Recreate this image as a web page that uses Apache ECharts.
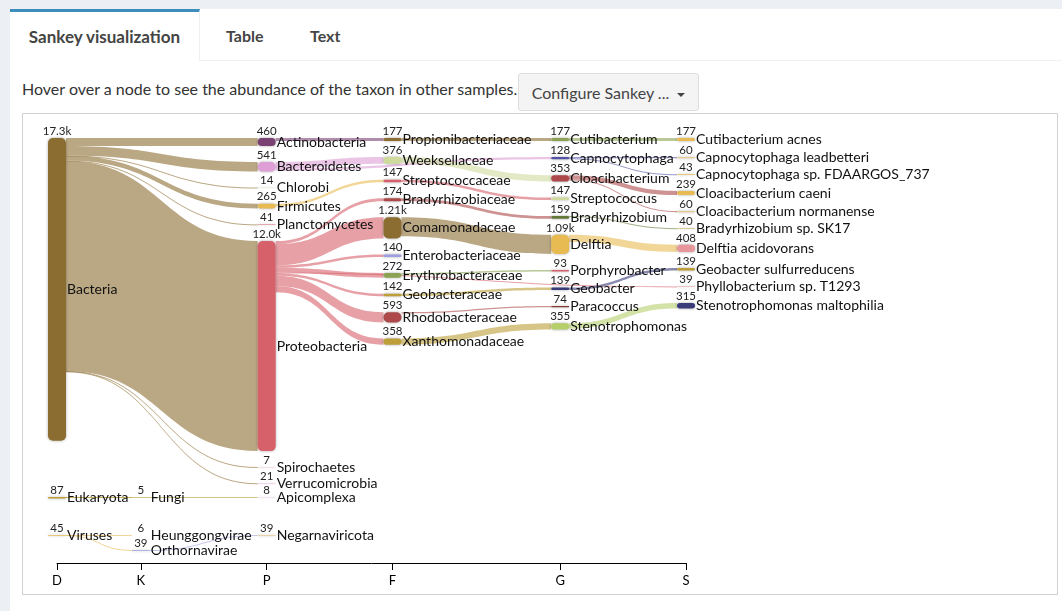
<!DOCTYPE html>
<html>
<head>
<meta charset="utf-8">
<script src="https://cdn.jsdelivr.net/npm/echarts@6/dist/echarts.min.js"></script>
<style>
  html, body { margin: 0; padding: 0; background: #ecf0f5; width: 1062px; height: 611px; overflow: hidden; font-family: Lato, "Open Sans", sans-serif; color: #333; }
  #panel { position: absolute; left: 10px; top: 9px; right: 0; bottom: 0; background: #fff; }
  #tabbar { position: absolute; left: 0; top: 0; right: 0; height: 51px; border-bottom: 1px solid #f0f0f0; }
  .tab { position: absolute; top: 0; height: 51px; line-height: 54px; font-weight: bold; font-size: 16px; color: #444; }
  #tab1 { left: 0; width: 190px; border-top: 3px solid #3c8dbc; box-sizing: border-box; line-height: 50px; border-right: 1px solid #f0f0f0; text-align: center; height: 52px; background: #fff; font-size: 17px; }
  #tab2 { left: 216px; }
  #tab3 { left: 300px; }
  #hint { position: absolute; left: 12px; top: 70px; font-size: 16px; color: #333; }
  #btn { position: absolute; left: 508px; top: 64px; width: 181px; height: 38px; background: #f4f4f4; border: 1px solid #ddd; border-radius: 3px; box-sizing: border-box; font-size: 16px; color: #444; line-height: 37px; text-align: center; }
  #caret { display: inline-block; width: 0; height: 0; border-left: 4px solid transparent; border-right: 4px solid transparent; border-top: 4px solid #444; vertical-align: middle; margin-left: 4px; }
  #chart { position: absolute; left: 22px; top: 113px; width: 1034px; height: 480px; border: 1px solid #d2d2d2; background: #fff; }
</style>
</head>
<body>
<div id="panel">
  <div id="tabbar">
    <div class="tab" id="tab1">Sankey visualization</div>
    <div class="tab" id="tab2">Table</div>
    <div class="tab" id="tab3">Text</div>
  </div>
  <div id="hint">Hover over a node to see the abundance of the taxon in other samples.</div>
  <div id="btn">Configure Sankey ... <span id="caret"></span></div>
</div>
<div id="chart"></div>
<script>
// ---- Data ----
const rankLabels = ['D', 'K', 'P', 'F', 'G', 'S'];
// depth slot of each rank on the 16-slot layout axis
const rankSlots = [0, 2, 5, 8, 12, 15];

const domainNames = ['Bacteria', 'Eukaryota', 'Viruses'];
const domainValues = [17300, 87, 45];

const kingdomNames = ['Fungi', 'Heunggongvirae', 'Orthornavirae'];
const kingdomValues = [5, 6, 39];

const phylumNames = ['Actinobacteria', 'Bacteroidetes', 'Chlorobi', 'Firmicutes', 'Planctomycetes', 'Proteobacteria', 'Spirochaetes', 'Verrucomicrobia', 'Apicomplexa', 'Negarnaviricota'];
const phylumValues = [460, 541, 14, 265, 41, 12000, 7, 21, 8, 39];

const familyNames = ['Propionibacteriaceae', 'Weeksellaceae', 'Streptococcaceae', 'Bradyrhizobiaceae', 'Comamonadaceae', 'Enterobacteriaceae', 'Erythrobacteraceae', 'Geobacteraceae', 'Rhodobacteraceae', 'Xanthomonadaceae'];
const familyValues = [177, 376, 147, 174, 1210, 140, 272, 142, 593, 358];

const genusNames = ['Cutibacterium', 'Capnocytophaga', 'Cloacibacterium', 'Streptococcus', 'Bradyrhizobium', 'Delftia', 'Porphyrobacter', 'Geobacter', 'Paracoccus', 'Stenotrophomonas'];
const genusValues = [177, 128, 353, 147, 159, 1090, 93, 139, 74, 355];

const speciesNames = ['Cutibacterium acnes', 'Capnocytophaga leadbetteri', 'Capnocytophaga sp. FDAARGOS_737', 'Cloacibacterium caeni', 'Cloacibacterium normanense', 'Bradyrhizobium sp. SK17', 'Delftia acidovorans', 'Geobacter sulfurreducens', 'Phyllobacterium sp. T1293', 'Stenotrophomonas maltophilia'];
const speciesValues = [177, 60, 43, 239, 60, 40, 408, 139, 39, 315];

const flows = [
  ['Bacteria', 'Actinobacteria', 460],
  ['Bacteria', 'Bacteroidetes', 541],
  ['Bacteria', 'Chlorobi', 14],
  ['Bacteria', 'Firmicutes', 265],
  ['Bacteria', 'Planctomycetes', 41],
  ['Bacteria', 'Proteobacteria', 12000],
  ['Bacteria', 'Spirochaetes', 7],
  ['Bacteria', 'Verrucomicrobia', 21],
  ['Eukaryota', 'Fungi', 5],
  ['Eukaryota', 'Apicomplexa', 8],
  ['Viruses', 'Heunggongvirae', 6],
  ['Viruses', 'Orthornavirae', 39],
  ['Orthornavirae', 'Negarnaviricota', 39],
  ['Actinobacteria', 'Propionibacteriaceae', 177],
  ['Bacteroidetes', 'Weeksellaceae', 376],
  ['Bacteroidetes', 'Capnocytophaga', 128],
  ['Firmicutes', 'Streptococcaceae', 147],
  ['Proteobacteria', 'Bradyrhizobiaceae', 174],
  ['Proteobacteria', 'Comamonadaceae', 1210],
  ['Proteobacteria', 'Enterobacteriaceae', 140],
  ['Proteobacteria', 'Erythrobacteraceae', 272],
  ['Proteobacteria', 'Geobacteraceae', 142],
  ['Proteobacteria', 'Rhodobacteraceae', 593],
  ['Proteobacteria', 'Xanthomonadaceae', 358],
  ['Proteobacteria', 'Phyllobacterium sp. T1293', 39],
  ['Propionibacteriaceae', 'Cutibacterium', 177],
  ['Weeksellaceae', 'Cloacibacterium', 353],
  ['Streptococcaceae', 'Streptococcus', 147],
  ['Bradyrhizobiaceae', 'Bradyrhizobium', 159],
  ['Comamonadaceae', 'Delftia', 1090],
  ['Erythrobacteraceae', 'Porphyrobacter', 93],
  ['Geobacteraceae', 'Geobacter', 139],
  ['Rhodobacteraceae', 'Paracoccus', 74],
  ['Xanthomonadaceae', 'Stenotrophomonas', 355],
  ['Cutibacterium', 'Cutibacterium acnes', 177],
  ['Capnocytophaga', 'Capnocytophaga leadbetteri', 60],
  ['Capnocytophaga', 'Capnocytophaga sp. FDAARGOS_737', 43],
  ['Cloacibacterium', 'Cloacibacterium caeni', 239],
  ['Cloacibacterium', 'Cloacibacterium normanense', 60],
  ['Bradyrhizobium', 'Bradyrhizobium sp. SK17', 40],
  ['Delftia', 'Delftia acidovorans', 408],
  ['Geobacter', 'Geobacter sulfurreducens', 139],
  ['Stenotrophomonas', 'Stenotrophomonas maltophilia', 315]
];

// ---- Styles (node colours, category20b palette) ----
const nodeColors = {
  'Bacteria': '#8c6d31', 'Eukaryota': '#bd9e39', 'Viruses': '#e7ba52',
  'Fungi': '#e7cb94', 'Heunggongvirae': '#cedb9c', 'Orthornavirae': '#9c9ede',
  'Actinobacteria': '#7b4173', 'Bacteroidetes': '#de9ed6', 'Chlorobi': '#cedb9c', 'Firmicutes': '#e7ba52',
  'Planctomycetes': '#d6616b', 'Proteobacteria': '#d6616b', 'Spirochaetes': '#e7969c', 'Verrucomicrobia': '#ce6dbd',
  'Apicomplexa': '#de9ed6', 'Negarnaviricota': '#e7cb94',
  'Propionibacteriaceae': '#8c6d31', 'Weeksellaceae': '#cedb9c', 'Streptococcaceae': '#d6616b', 'Bradyrhizobiaceae': '#ad494a',
  'Comamonadaceae': '#8c6d31', 'Enterobacteriaceae': '#9c9ede', 'Erythrobacteraceae': '#8ca252', 'Geobacteraceae': '#bd9e39',
  'Rhodobacteraceae': '#ad494a', 'Xanthomonadaceae': '#bd9e39',
  'Cutibacterium': '#8ca252', 'Capnocytophaga': '#5254a3', 'Cloacibacterium': '#ad494a', 'Streptococcus': '#cedb9c',
  'Bradyrhizobium': '#637939', 'Delftia': '#e7ba52', 'Porphyrobacter': '#d6616b', 'Geobacter': '#393b79',
  'Paracoccus': '#843c39', 'Stenotrophomonas': '#b5cf6b',
  'Cutibacterium acnes': '#e7ba52', 'Capnocytophaga leadbetteri': '#e7cb94', 'Capnocytophaga sp. FDAARGOS_737': '#e7ba52',
  'Cloacibacterium caeni': '#e7ba52', 'Cloacibacterium normanense': '#e7cb94', 'Bradyrhizobium sp. SK17': '#bd9e39',
  'Delftia acidovorans': '#e7969c', 'Geobacter sulfurreducens': '#bd9e39', 'Phyllobacterium sp. T1293': '#e7969c',
  'Stenotrophomonas maltophilia': '#393b79'
};

// ---- Layout settings ----
const FONT = 'Lato, "Open Sans", sans-serif';
const NODE_W = 18;
const PX_PER_READ = 0.0175;      // vertical scale shared by all trees
const SANKEY_LEFT = 25;
const SANKEY_FULL_W = 647;       // width covering all 16 depth slots
const maxSlot = rankSlots[rankSlots.length - 1];
const slotW = (SANKEY_FULL_W - NODE_W) / maxSlot;
// each disconnected tree is laid out as its own sankey: [root, top offset, node gap]
const trees = [
  ['Bacteria', 24, 16],
  ['Eukaryota', 383, 16],
  ['Viruses', 421, 15]
];

const levels = [
  [domainNames, domainValues], [kingdomNames, kingdomValues], [phylumNames, phylumValues],
  [familyNames, familyValues], [genusNames, genusValues], [speciesNames, speciesValues]
];
const valueOf = {}, slotOf = {}, order = [];
levels.forEach(function (lv, r) {
  lv[0].forEach(function (name, i) {
    valueOf[name] = lv[1][i];
    slotOf[name] = rankSlots[r];
    order.push(name);
  });
});

function fmt(v) {
  return v >= 1000 ? (v / 1000).toPrecision(3) + 'k' : String(v);
}

function treeMembers(root) {
  const set = {}; set[root] = true;
  let changed = true;
  while (changed) {
    changed = false;
    flows.forEach(function (f) {
      if (set[f[0]] && !set[f[1]]) { set[f[1]] = true; changed = true; }
    });
  }
  return order.filter(function (n) { return set[n]; });
}

function buildTree(root, top, gap) {
  const members = treeMembers(root);
  const inTree = {}; members.forEach(function (n) { inTree[n] = true; });
  const cols = {};
  members.forEach(function (n) {
    const s = slotOf[n];
    cols[s] = cols[s] || { sum: 0, n: 0 };
    cols[s].sum += valueOf[n]; cols[s].n += 1;
  });
  let h = 0, mSlot = 0;
  Object.keys(cols).forEach(function (s) {
    const c = cols[s];
    h = Math.max(h, c.sum * PX_PER_READ + (c.n - 1) * gap);
    mSlot = Math.max(mSlot, +s);
  });
  const data = members.map(function (n) {
    return { name: n, value: valueOf[n], depth: slotOf[n], itemStyle: { color: nodeColors[n] } };
  });
  const lk = flows.filter(function (f) { return inTree[f[0]]; })
    .map(function (f) { return { source: f[0], target: f[1], value: f[2] }; });
  const base = {
    type: 'sankey', left: SANKEY_LEFT, width: NODE_W + mSlot * slotW, top: top, height: h,
    nodeWidth: NODE_W, nodeGap: gap, nodeAlign: 'left', layoutIterations: 0, draggable: false,
    data: data, links: lk, emphasis: { disabled: true }
  };
  return [
    Object.assign({}, base, {
      itemStyle: { borderRadius: 5, shadowBlur: 3, shadowColor: 'rgba(0,0,0,0.35)' },
      lineStyle: { color: 'source', opacity: 0.6, curveness: 0.5 },
      label: { show: true, position: 'right', distance: 1, color: '#111', fontSize: 14, fontFamily: FONT, formatter: '{b}' }
    }),
    Object.assign({}, base, {
      silent: true,
      itemStyle: { opacity: 0 },
      lineStyle: { opacity: 0 },
      label: { show: true, position: 'top', distance: 1, color: '#222', fontSize: 11.5, fontFamily: FONT,
        formatter: function (p) { return fmt(valueOf[p.name]); } }
    })
  ];
}

const series = [];
trees.forEach(function (t) { buildTree(t[0], t[1], t[2]).forEach(function (s) { series.push(s); }); });

const axisCats = [];
for (let i = 0; i <= maxSlot; i++) {
  const r = rankSlots.indexOf(i);
  axisCats.push(r >= 0 ? rankLabels[r] : '');
}

const chart = echarts.init(document.getElementById('chart'));
chart.setOption({
  animation: false,
  grid: { left: SANKEY_LEFT + NODE_W / 2, width: SANKEY_FULL_W - NODE_W, bottom: 31, top: 440 },
  xAxis: {
    type: 'category', data: axisCats, boundaryGap: false,
    axisLine: { lineStyle: { color: '#000', width: 1 } },
    axisTick: { length: 7, lineStyle: { color: '#000' }, interval: function (i, v) { return v !== ''; } },
    axisLabel: { interval: 0, color: '#000', fontSize: 13, fontFamily: FONT, margin: 11 },
    splitLine: { show: false }
  },
  yAxis: { type: 'value', show: false },
  series: series
});
</script>
</body>
</html>
